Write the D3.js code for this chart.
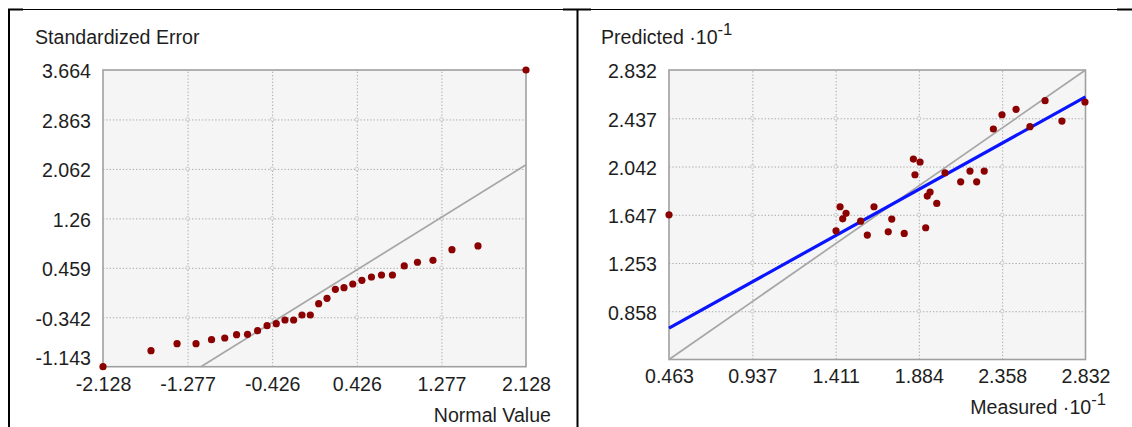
<!DOCTYPE html>
<html><head><meta charset="utf-8">
<script src="https://cdn.jsdelivr.net/npm/d3@7"></script>
<style>
html,body{margin:0;padding:0;background:#fff;}
svg{display:block;}
text{font-family:"Liberation Sans",Arial,sans-serif;fill:#1e1e1e;}
</style></head>
<body>
<svg id="c" width="1132" height="427"></svg>
<script>
// ---------- DATA ----------
// Left: normal QQ plot
const qqXTicks = [-2.128, -1.277, -0.426, 0.426, 1.277, 2.128];
const qqYTicks = [3.664, 2.863, 2.062, 1.26, 0.459, -0.342, -1.143];
const qqNormal = [-2.128,-1.645,-1.383,-1.192,-1.036,-0.903,-0.784,-0.674,-0.573,-0.477,
                  -0.385,-0.297,-0.210,-0.126,-0.042,0.042,0.126,0.210,0.297,0.385,
                  0.477,0.573,0.674,0.784,0.903,1.036,1.192,1.383,1.645,2.128];
const qqError  = [-1.143,-0.884,-0.770,-0.770,-0.705,-0.678,-0.624,-0.618,-0.560,-0.479,
                  -0.446,-0.386,-0.386,-0.305,-0.305,-0.122,-0.035,0.111,0.137,0.197,
                  0.257,0.310,0.343,0.343,0.489,0.549,0.581,0.753,0.813,3.664];
const qqRefLine = [[-1.143,-1.143],[2.128,2.128]];

// Right: predicted vs measured (x 10^-1)
const pmXTicks = [0.463, 0.937, 1.411, 1.884, 2.358, 2.832];
const pmYTicks = [2.832, 2.437, 2.042, 1.647, 1.253, 0.858];
const pmDomain = [0.463, 2.832];
const measured  = [0.463,1.436,1.470,1.451,1.413,1.553,1.591,1.629,1.730,1.710,
                   1.801,1.853,1.891,1.862,1.948,1.932,1.986,1.923,2.033,2.122,
                   2.175,2.213,2.256,2.308,2.357,2.437,2.516,2.602,2.698,2.829];
const predicted = [1.647,1.713,1.659,1.614,1.516,1.595,1.481,1.713,1.612,1.508,
                   1.495,2.103,2.079,1.975,1.833,1.800,1.740,1.541,1.991,1.917,
                   2.005,1.917,2.005,2.349,2.466,2.510,2.368,2.581,2.414,2.570];
const pmRefLine  = [[0.463,0.463],[2.832,2.832]];
const pmRegLine  = [[0.463,0.720],[2.832,2.612]];

// ---------- DRAW ----------
const svg = d3.select("#c");

// outer table borders
const frame = svg.append("g");
frame.append("line").attr("x1",8).attr("x2",1132).attr("y1",9.5).attr("y2",9.5).attr("stroke","#000").attr("stroke-width",1.2);
[[8,23],[563,591],[1117,1132]].forEach(s=>frame.append("line").attr("x1",s[0]).attr("x2",s[1]).attr("y1",9.5).attr("y2",9.5).attr("stroke","#000").attr("stroke-width",2));
frame.append("line").attr("x1",9).attr("x2",9).attr("y1",9).attr("y2",427).attr("stroke","#000").attr("stroke-width",2);
frame.append("line").attr("x1",577.5).attr("x2",577.5).attr("y1",9).attr("y2",427).attr("stroke","#000").attr("stroke-width",2);

function panel(cfg){
  const g = svg.append("g");
  const x = cfg.x, y = cfg.y;
  const [x0,x1] = x.range(), [y0,y1] = y.range(); // y0 bottom, y1 top
  g.append("rect").attr("x",x0).attr("y",y1).attr("width",x1-x0).attr("height",y0-y1)
    .attr("fill","#f5f5f5");
  // grid
  const gx = cfg.xTicks.filter(v=>v!==x.domain()[0] && v!==x.domain()[1]);
  const gy = cfg.yTicks.filter(v=>v!==y.domain()[0] && v!==y.domain()[1]);
  g.append("g").attr("transform",`translate(0,${y0})`)
    .call(d3.axisBottom(x).tickValues(gx).tickSize(-(y0-y1)).tickFormat(""))
    .call(a=>a.select(".domain").remove())
    .call(a=>a.selectAll("line").attr("stroke","#a8a8a8").attr("stroke-dasharray","1.3,2"));
  g.append("g").attr("transform",`translate(${x0},0)`)
    .call(d3.axisLeft(y).tickValues(gy).tickSize(-(x1-x0)).tickFormat(""))
    .call(a=>a.select(".domain").remove())
    .call(a=>a.selectAll("line").attr("stroke","#a8a8a8").attr("stroke-dasharray","1.3,2"));
  const inter = [];
  gx.forEach(a=>gy.forEach(b=>inter.push([a,b])));
  g.selectAll("circle.int").data(inter).join("circle").attr("class","int")
    .attr("cx",d=>x(d[0])).attr("cy",d=>y(d[1])).attr("r",1.8)
    .attr("fill","#f5f5f5").attr("stroke","#c4c4c4").attr("stroke-width",0.8);
  // border
  g.append("rect").attr("x",x0).attr("y",y1).attr("width",x1-x0).attr("height",y0-y1)
    .attr("fill","none").attr("stroke","#a0a0a0").attr("stroke-width",1.6);
  // ref lines
  const line = d3.line().x(d=>x(d[0])).y(d=>y(d[1]));
  g.append("path").attr("d",line(cfg.ref)).attr("fill","none").attr("stroke","#a6a6a6").attr("stroke-width",1.7);
  if(cfg.reg) g.append("path").attr("d",line(cfg.reg)).attr("fill","none").attr("stroke","#0a14ff").attr("stroke-width",3.2);
  // points
  g.selectAll("circle.pt").data(cfg.xs.map((v,i)=>[v,cfg.ys[i]])).join("circle").attr("class","pt")
    .attr("cx",d=>x(d[0])).attr("cy",d=>y(d[1])).attr("r",3.6).attr("fill","#8b0000");
  // tick labels
  g.append("g").attr("transform",`translate(${x0},0)`)
    .call(d3.axisLeft(y).tickValues(cfg.yTicks).tickSize(0).tickPadding(cfg.yPad).tickFormat(d=>String(d)))
    .call(a=>a.select(".domain").remove())
    .call(a=>a.selectAll("text").attr("font-size",cfg.fs).attr("font-family",null).attr("fill","#1e1e1e")
      .attr("dy",d=>d===y.domain()[0] ? "-0.1em" : "0.4em"));
  g.append("g").attr("transform",`translate(0,${y0})`)
    .call(d3.axisBottom(x).tickValues(cfg.xTicks).tickSize(0).tickPadding(cfg.xPad).tickFormat(d=>String(d)))
    .call(a=>a.select(".domain").remove())
    .call(a=>a.selectAll("text").attr("font-size",cfg.fs).attr("font-family",null).attr("fill","#1e1e1e"));
  return g;
}

const FS = 19.6;
const lx = d3.scaleLinear().domain([-2.128,2.128]).range([103,526]);
const ly = d3.scaleLinear().domain([-1.143,3.664]).range([366.7,70]);
const gl = panel({x:lx,y:ly,xTicks:qqXTicks,yTicks:qqYTicks,xs:qqNormal,ys:qqError,ref:qqRefLine,fs:FS,yPad:12,xPad:10});
gl.append("text").attr("x",35).attr("y",44).attr("font-size",FS).text("Standardized Error");
gl.append("text").attr("x",551).attr("y",422).attr("text-anchor","end").attr("font-size",FS).text("Normal Value");

const rx = d3.scaleLinear().domain(pmDomain).range([669,1085.5]);
const ry = d3.scaleLinear().domain(pmDomain).range([359.5,70]);
const gr = panel({x:rx,y:ry,xTicks:pmXTicks,yTicks:pmYTicks,xs:measured,ys:predicted,ref:pmRefLine,reg:pmRegLine,fs:FS,yPad:12,xPad:10});
const t1 = gr.append("text").attr("x",601).attr("y",44).attr("font-size",FS);
t1.append("tspan").text("Predicted \u00B710");
t1.append("tspan").attr("font-size",FS*0.85).attr("dy",-9).text("-1");
const t2 = gr.append("text").attr("x",1106).attr("y",414).attr("text-anchor","end").attr("font-size",FS);
t2.append("tspan").text("Measured \u00B710");
t2.append("tspan").attr("font-size",FS*0.85).attr("dy",-9).text("-1");
</script>
</body></html>
